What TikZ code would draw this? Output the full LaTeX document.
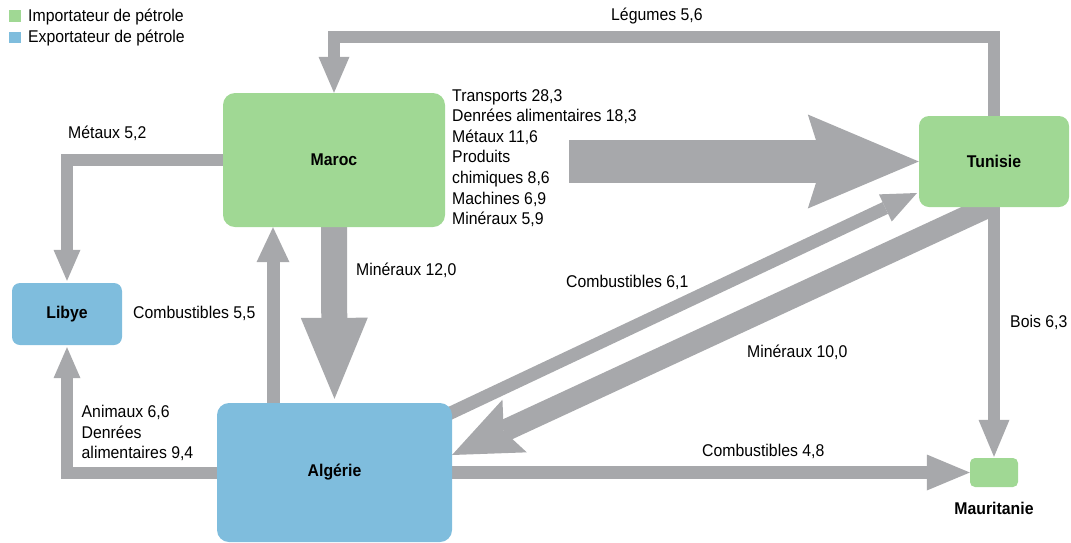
\documentclass[tikz,border=0pt]{standalone}
\usepackage{fontspec}
\setmainfont{Liberation Sans}[FakeStretch=0.93]
\usetikzlibrary{arrows.meta,backgrounds}
\definecolor{pgreen}{RGB}{160,216,148}
\definecolor{pblue}{RGB}{127,189,221}
\definecolor{fgray}{RGB}{167,168,171}
\begin{document}
\begin{tikzpicture}[x=1pt,y=-1pt,
  every node/.style={font=\fontsize{17}{20.6}\selectfont, inner sep=0pt},
  country/.style={rounded corners=#1, font=\fontsize{17}{20.6}\selectfont\bfseries},
  flowline/.style={draw=fgray, line width=#1},
  lbl/.style={anchor=west}
]
\useasboundingbox (0,0) rectangle (1071,542);

% legend
\node[fill=pgreen, minimum size=11.5pt] (lg) at (15,16) {};
\node[fill=pblue, minimum size=11.5pt] (lb) at (15,37.5) {};
\node[lbl] (lgt) at (28,17) {Importateur de pétrole};
\node[lbl] (lbt) at (28,38) {Exportateur de pétrole};

% countries
\node[country=12pt, fill=pgreen, minimum width=222pt, minimum height=134pt] (maroc) at (334,160) {Maroc};
\node[country=10pt, fill=pgreen, minimum width=150pt, minimum height=91pt] (tunisie) at (994,161.5) {Tunisie};
\node[country=8pt, fill=pblue, minimum width=110pt, minimum height=62pt] (libye) at (67,314) {Libye};
\node[country=12pt, fill=pblue, minimum width=235pt, minimum height=139pt] (algerie) at (334.5,472.5) {Algérie};
\node[country=5pt, fill=pgreen, minimum width=48pt, minimum height=29pt] (mauritanie) at (994,472.5) {};
\node[font=\fontsize{17}{20.6}\selectfont\bfseries] (maurlbl) at (994,508) {Mauritanie};

% flow labels
\node[anchor=north west, align=left] (marocflux) at (452,89) {Transports 28,3\\Denrées alimentaires 18,3\\Métaux 11,6\\Produits\\chimiques 8,6\\Machines 6,9\\Minéraux 5,9};
\node[lbl] (lleg) at (611,16) {Légumes 5,6};
\node[lbl] (lmet) at (68,133) {Métaux 5,2};
\node[lbl] (lmin12) at (356,270) {Minéraux 12,0};
\node[lbl] (lcomb55) at (133,313) {Combustibles 5,5};
\node[lbl] (lcomb61) at (566,282) {Combustibles 6,1};
\node[lbl] (lmin10) at (747,352) {Minéraux 10,0};
\node[lbl] (lbois) at (1010,322) {Bois 6,3};
\node[lbl] (lcomb48) at (702,451) {Combustibles 4,8};
\node[anchor=north west, align=left] (lanim) at (81.5,405) {Animaux 6,6\\Denrées\\alimentaires 9,4};

% connectors
\begin{pgfonlayer}{background}
\coordinate (legtop) at (0,37);
\coordinate (m2t) at (569,161.5);
\coordinate (c55) at (273,0);
\coordinate (c61s) at (440,418);
\coordinate (c61e) at (917,193);
\coordinate (m10s) at (992,205);
\coordinate (m10e) at (452,455);

\draw[flowline=12pt, -{Triangle[length=36pt,width=31pt,line width=0pt]}]
  (tunisie.north) |- (maroc.north |- legtop) -- (maroc.north);
\draw[flowline=12pt, shorten >=2pt, -{Triangle[length=31pt,width=27pt,line width=0pt]}]
  (maroc.west) -| (libye.north);
\draw[flowline=43pt, -{Stealth[length=111pt,width=94pt,inset=15pt,line width=0pt]}]
  (m2t) -- (tunisie.west);
\draw[flowline=26pt, shorten >=4pt, -{Triangle[length=81pt,width=67pt,line width=0pt]}]
  (maroc.south) -- (algerie.north);
\draw[flowline=13pt, -{Triangle[length=35pt,width=33pt,line width=0pt]}]
  (algerie.north -| c55) -- (maroc.south -| c55);
\draw[flowline=12pt, shorten >=2pt, -{Triangle[length=31pt,width=27pt,line width=0pt]}]
  (algerie.west) -| (libye.south);
\draw[flowline=13pt, -{Triangle[length=35pt,width=30pt,line width=0pt]}]
  (c61s) -- (c61e);
\draw[flowline=22pt, -{Stealth[length=69pt,width=58pt,inset=12pt,line width=0pt]}]
  (m10s) -- (m10e);
\draw[flowline=12pt, shorten >=1pt, -{Triangle[length=37pt,width=31pt,line width=0pt]}]
  (tunisie.south) -- (mauritanie.north);
\draw[flowline=13pt, -{Triangle[length=43pt,width=36pt,line width=0pt]}]
  (algerie.east) -- (mauritanie.west);
\end{pgfonlayer}
\end{tikzpicture}
\end{document}
